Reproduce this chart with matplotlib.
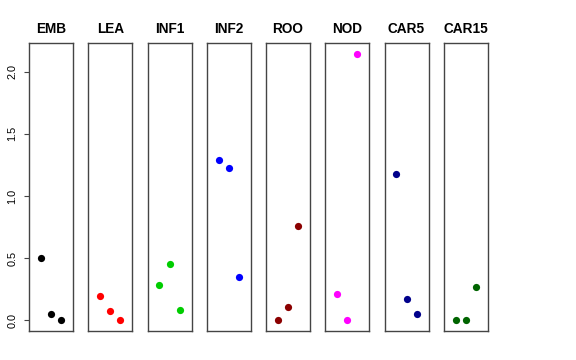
"""
Puntos por tejido: 8 paneles con eje y compartido.
"""

import numpy as np
import matplotlib
matplotlib.use('Agg')
import matplotlib.pyplot as plt

plt.rcParams['font.family'] = ['Liberation Sans', 'DejaVu Sans']

tissues = ['EMB', 'LEA', 'INF1', 'INF2', 'ROO', 'NOD', 'CAR5', 'CAR15']
colors = ['black', 'red', '#00CD00', 'blue', '#8B0000', 'magenta', '#00008B', '#006400']
values = [
    [0.499, 0.053, 0.0],
    [0.198, 0.075, 0.0],
    [0.287, 0.455, 0.080],
    [1.287, 1.223, 0.348],
    [0.0, 0.110, 0.761],
    [0.212, 0.0, 2.145],
    [1.180, 0.169, 0.048],
    [0.0, 0.0, 0.270],
]
yticks = [0.0, 0.5, 1.0, 1.5, 2.0]

W, H = 576, 360
fig = plt.figure(figsize=(W / 100, H / 100), dpi=100)

ymax = max(max(v) for v in values)
ylim = (-0.04 * ymax, ymax * 1.04)

left0 = 29
step = 59.25
pw = 44
bottom = H - 331
ph = 288

for i, (name, col, vals) in enumerate(zip(tissues, colors, values)):
    ax = fig.add_axes([(left0 + i * step) / W, bottom / H, pw / W, ph / H])
    x = np.arange(1, len(vals) + 1)
    ax.plot(x, vals, 'o', color=col, markersize=5.2, markeredgewidth=0)
    ax.set_xlim(-0.16, 4.16)
    ax.set_ylim(*ylim)
    ax.set_xticks([])
    for sp in ax.spines.values():
        sp.set_color('#444444')
        sp.set_linewidth(1)
    ax.set_title(name, fontsize=9.8, fontweight='bold', pad=7)
    if i == 0:
        ax.set_yticks(yticks)
        ax.set_yticklabels([f'{t:.1f}' for t in yticks], rotation=90, va='center')
        ax.tick_params(axis='y', length=3.5, width=0.8, pad=5, labelsize=7.8,
                       color='#444444')
    else:
        ax.set_yticks([])

fig.savefig('out.png', dpi=100)
plt.close(fig)
